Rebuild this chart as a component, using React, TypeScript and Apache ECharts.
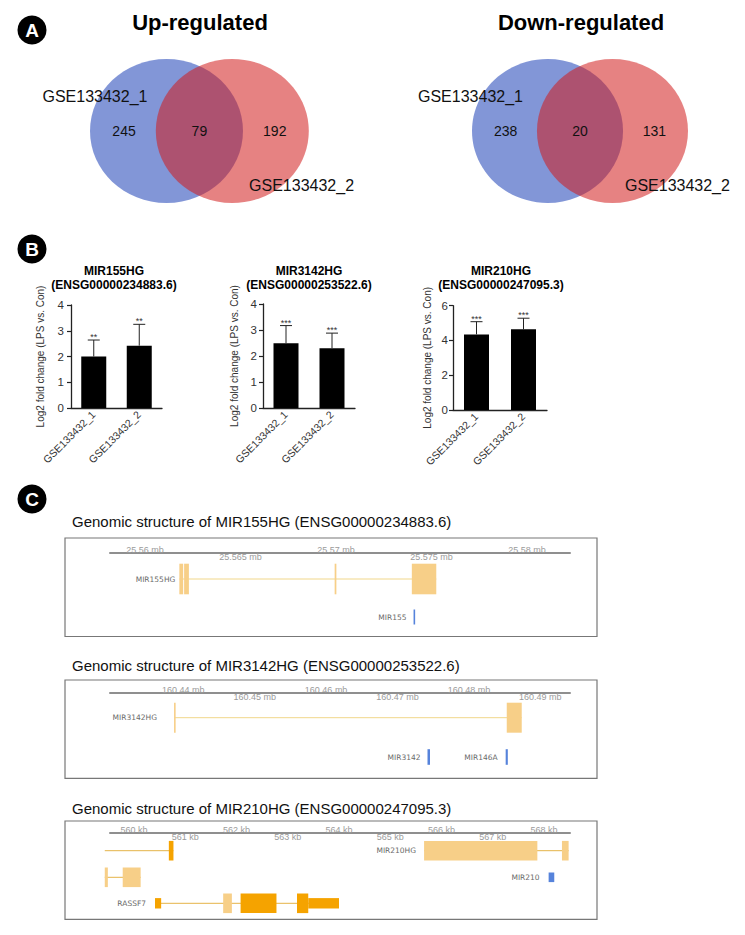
import React, { useEffect, useRef } from "react";
import * as echarts from "echarts";

// ---------------- DATA ----------------
const vennSets = ["GSE133432_1", "GSE133432_2"];
const upCounts = [245, 79, 192]; // only set1, both, only set2
const downCounts = [238, 20, 131];

const barCategories = ["GSE133432_1", "GSE133432_2"];
const mir155hgMeans = [2.0, 2.42];
const mir155hgSD = [0.64, 0.83];
const mir155hgSig = ["**", "**"];
const mir3142hgMeans = [2.49, 2.3];
const mir3142hgSD = [0.68, 0.58];
const mir3142hgSig = ["***", "***"];
const mir210hgMeans = [4.35, 4.64];
const mir210hgSD = [0.73, 0.64];
const mir210hgSig = ["***", "***"];

// genomic coordinates in kb; [start, end, feature kind]
const mir155Ticks = [25560, 25565, 25570, 25575, 25580];
const mir155TickLabels = ["25.56 mb", "25.565 mb", "25.57 mb", "25.575 mb", "25.58 mb"];
const mir155hgExons: [number, number, string][] = [
  [25561.8, 25562.0, "nc"],
  [25562.05, 25562.3, "nc"],
  [25569.93, 25570.02, "nc"],
  [25573.97, 25575.25, "nc"],
];
const mir155Exons: [number, number, string][] = [[25574.06, 25574.14, "mir"]];

const mir3142Ticks = [160440, 160450, 160460, 160470, 160480, 160490];
const mir3142TickLabels = ["160.44 mb", "160.45 mb", "160.46 mb", "160.47 mb", "160.48 mb", "160.49 mb"];
const mir3142hgExons: [number, number, string][] = [
  [160438.7, 160438.9, "nc"],
  [160485.3, 160487.4, "nc"],
];
const mir3142Exons: [number, number, string][] = [[160474.2, 160474.55, "mir"]];
const mir146aExons: [number, number, string][] = [[160485.15, 160485.45, "mir"]];

const mir210Ticks = [560, 561, 562, 563, 564, 565, 566, 567, 568];
const mir210TickLabels = ["560 kb", "561 kb", "562 kb", "563 kb", "564 kb", "565 kb", "566 kb", "567 kb", "568 kb"];
const upstreamCodingSpan = [559.43, 560.77];
const upstreamCodingExons: [number, number, string][] = [[560.68, 560.77, "cds"]];
const mir210hgExons: [number, number, string][] = [
  [565.66, 567.87, "nc"],
  [568.35, 568.48, "nc"],
];
const upstreamNcExons: [number, number, string][] = [
  [559.43, 559.49, "nc"],
  [559.78, 560.13, "nc"],
];
const mir210Exons: [number, number, string][] = [[568.09, 568.2, "mir"]];
const rassf7Exons: [number, number, string][] = [
  [560.41, 560.53, "utr"],
  [561.74, 561.91, "nc"],
  [562.08, 562.78, "cds"],
  [563.18, 563.4, "cds"],
  [563.4, 564.0, "utr"],
];

// ---------------- STYLE ----------------
const FONT = "'Liberation Sans', Arial, Helvetica, sans-serif";
const NARROW = "'Liberation Sans Narrow', 'Arial Narrow', 'Liberation Sans', sans-serif";
const BLUE = "rgba(28,64,182,0.55)";
const RED = "rgba(209,28,28,0.55)";
const FEATURE_COLORS: Record<string, string> = {
  nc: "#F7CF88",
  cds: "#F5A300",
  utr: "#F5A300",
  mir: "#5683DB",
};

const D = 0.86; // venn centre distance (radius units)

function vennSeries(gridIdx: number, counts: number[], namePos: number[][]) {
  const shapes: any[] = [
    { kind: "circle", value: [0, 0], color: BLUE },
    { kind: "circle", value: [D, 0], color: RED },
    { kind: "text", value: [-0.555, 0], text: String(counts[0]), size: 14 },
    { kind: "text", value: [D / 2, 0], text: String(counts[1]), size: 14 },
    { kind: "text", value: [D + 0.555, 0], text: String(counts[2]), size: 14 },
    { kind: "text", value: namePos[0], text: vennSets[0], size: 16 },
    { kind: "text", value: namePos[1], text: vennSets[1], size: 16 },
  ];
  return {
    type: "custom",
    xAxisIndex: gridIdx,
    yAxisIndex: gridIdx,
    silent: true,
    data: shapes.map((s) => s.value),
    renderItem: (params: any, api: any) => {
      const sh = shapes[params.dataIndex];
      const c = api.coord([api.value(0), api.value(1)]);
      if (sh.kind === "circle") {
        const r = api.size([1, 1]);
        return {
          type: "ellipse",
          shape: { cx: c[0], cy: c[1], rx: r[0], ry: r[1] },
          style: { fill: sh.color },
        };
      }
      return {
        type: "text",
        x: c[0],
        y: c[1],
        style: {
          text: sh.text,
          fill: "#111",
          font: `${sh.size}px ${FONT}`,
          align: "center",
          verticalAlign: "middle",
          textAlign: "center",
          textVerticalAlign: "middle",
        },
      };
    },
  };
}

function errorSeries(gridIdx: number, means: number[], sds: number[], sig: string[]) {
  return {
    type: "custom",
    xAxisIndex: gridIdx,
    yAxisIndex: gridIdx,
    silent: true,
    z: 5,
    data: means.map((m, i) => [i, m, m + sds[i]]),
    encode: { x: 0, y: [1, 2] },
    renderItem: (params: any, api: any) => {
      const b = api.coord([api.value(0), api.value(1)]);
      const t = api.coord([api.value(0), api.value(2)]);
      const hw = 6;
      return {
        type: "group",
        children: [
          { type: "line", shape: { x1: b[0], y1: b[1], x2: t[0], y2: t[1] }, style: { stroke: "#222", lineWidth: 1 } },
          { type: "line", shape: { x1: t[0] - hw, y1: t[1], x2: t[0] + hw, y2: t[1] }, style: { stroke: "#222", lineWidth: 1 } },
          {
            type: "text",
            x: t[0],
            y: t[1] - 3,
            style: {
              text: sig[params.dataIndex],
              fill: "#333",
              font: `9px ${FONT}`,
              align: "center",
              verticalAlign: "middle",
              textAlign: "center",
              textVerticalAlign: "middle",
            },
          },
        ],
      };
    },
  };
}

type Track = {
  label?: string;
  exons: [number, number, string][];
  span?: number[];
  row: number;
  labelGap?: number;
};

function trackSeries(gridIdx: number, tracks: Track[], half: Record<string, number>, intronColor: string) {
  const shapes: any[] = [];
  tracks.forEach((t) => {
    const s = t.span ? t.span[0] : Math.min(...t.exons.map((e) => e[0]));
    const e = t.span ? t.span[1] : Math.max(...t.exons.map((x) => x[1]));
    if (t.exons.length > 1 || t.span) shapes.push({ kind: "intron", value: [s, e], row: t.row });
    t.exons.forEach((ex) =>
      shapes.push({ kind: "exon", value: [ex[0], ex[1]], row: t.row, half: half[ex[2]], color: FEATURE_COLORS[ex[2]] })
    );
    if (t.label) shapes.push({ kind: "label", value: [s, s], row: t.row, text: t.label, gap: t.labelGap ?? 8 });
  });
  return {
    type: "custom",
    xAxisIndex: gridIdx,
    yAxisIndex: gridIdx,
    silent: true,
    clip: false,
    data: shapes.map((s) => s.value),
    renderItem: (params: any, api: any) => {
      const sh = shapes[params.dataIndex];
      const p0 = api.coord([api.value(0), sh.row]);
      const p1 = api.coord([api.value(1), sh.row]);
      if (sh.kind === "intron") {
        return {
          type: "line",
          shape: { x1: p0[0], y1: p0[1], x2: p1[0], y2: p1[1] },
          style: { stroke: intronColor, lineWidth: 0.9 },
        };
      }
      if (sh.kind === "exon") {
        const top = api.coord([api.value(0), sh.row - sh.half])[1];
        const bot = api.coord([api.value(0), sh.row + sh.half])[1];
        return {
          type: "rect",
          shape: { x: p0[0], y: top, width: Math.max(p1[0] - p0[0], 1.6), height: bot - top },
          style: { fill: sh.color },
        };
      }
      return {
        type: "text",
        x: p0[0] - sh.gap,
        y: p0[1],
        style: {
          text: sh.text,
          fill: "#6a6a6a",
          font: `7.5px 'DejaVu Sans', sans-serif`,
          align: "right",
          verticalAlign: "middle",
          textAlign: "right",
          textVerticalAlign: "middle",
        },
      };
    },
  };
}

function tickSeries(gridIdx: number, ticks: number[], labels: string[]) {
  return {
    type: "custom",
    xAxisIndex: gridIdx,
    yAxisIndex: gridIdx,
    silent: true,
    clip: false,
    data: ticks.map((t) => [t]),
    renderItem: (params: any, api: any) => {
      const p = api.coord([api.value(0), 0]);
      const above = params.dataIndex % 2 === 0;
      return {
        type: "text",
        x: p[0],
        y: p[1] + (above ? -2.8 : 4.6),
        style: {
          text: labels[params.dataIndex],
          fill: "#9b9b9b",
          font: `9px ${FONT}`,
          align: "center",
          verticalAlign: "middle",
          textAlign: "center",
          textVerticalAlign: "middle",
        },
      };
    },
  };
}

function text(x: number, y: number, t: string, font: string, align = "center", fill = "#000") {
  return {
    type: "text",
    x,
    y,
    silent: true,
    style: { text: t, font, fill, align, verticalAlign: "middle", textAlign: align, textVerticalAlign: "middle" },
  };
}

function badge(x: number, y: number, letter: string) {
  return [
    { type: "circle", shape: { cx: x, cy: y, r: 14.5 }, style: { fill: "#000" }, silent: true },
    text(x, y + 0.5, letter, `bold 19px ${FONT}`, "center", "#fff"),
  ];
}

function box(y: number, h: number) {
  return { type: "rect", shape: { x: 65, y, width: 532, height: h }, style: { fill: "none", stroke: "#777", lineWidth: 1.2 }, silent: true };
}

function barAxes(max: number, interval: number, nameGap: number, margin: number) {
  const x = {
    type: "category",
    data: barCategories,
    axisLine: { lineStyle: { color: "#222", width: 1.3 } },
    axisTick: { alignWithLabel: true, length: 4, lineStyle: { color: "#222", width: 1.2 } },
    axisLabel: { rotate: 45, fontSize: 10.5, color: "#333", margin: 5, fontFamily: NARROW },
  };
  const y = {
    type: "value",
    min: 0,
    max,
    interval,
    name: "Log2 fold change (LPS vs. Con)",
    nameLocation: "middle",
    nameGap,
    nameTextStyle: { fontSize: 10, color: "#333", fontFamily: NARROW },
    axisLine: { show: true, lineStyle: { color: "#222", width: 1.3 } },
    axisTick: { show: true, length: 4, lineStyle: { color: "#222", width: 1.2 } },
    axisLabel: { fontSize: 11.5, color: "#333", margin, fontFamily: NARROW },
    splitLine: { show: false },
  };
  return { x, y };
}

function hiddenAxes(xmin: number, xmax: number, ymin: number, ymax: number) {
  return {
    x: { type: "value", min: xmin, max: xmax, show: false },
    y: { type: "value", min: ymin, max: ymax, show: false },
  };
}

function genomeAxes(xmin: number, xmax: number, h: number) {
  return {
    x: {
      type: "value",
      min: xmin,
      max: xmax,
      position: "top",
      axisLine: { show: true, onZero: false, lineStyle: { color: "#8f8f8f", width: 2 } },
      axisTick: { show: false },
      axisLabel: { show: false },
      splitLine: { show: false },
    },
    y: { type: "value", min: 0, max: h, inverse: true, show: false },
  };
}

export default function App() {
  const ref = useRef<HTMLDivElement>(null);
  useEffect(() => {
    document.body.style.margin = "0";
    if (!ref.current) return;
    const chart = echarts.init(ref.current, undefined, { renderer: "svg" });

    const g = (left: number, top: number, width: number, height: number) => ({
      left,
      top,
      width,
      height,
      containLabel: false,
      outerBoundsMode: "none",
    });

    const axes = [
      hiddenAxes(-1, 1 + D, -1, 1),
      hiddenAxes(-1, 1 + D, -1, 1),
      barAxes(4, 1, 26, 7),
      barAxes(4, 1, 24, 6),
      barAxes(6, 2, 21, 5),
      genomeAxes(25558.17, 25582.25, 83.3),
      genomeAxes(160429.73, 160494.16, 85.6),
      genomeAxes(559.532, 568.507, 87),
    ];

    const option: any = {
      animation: false,
      backgroundColor: "#fff",
      textStyle: { fontFamily: FONT },
      grid: [
        g(90, 59, 218.8, 144),
        g(472, 59, 216, 144),
        g(71, 305, 91, 103),
        g(263, 304, 92, 104),
        g(453, 305.7, 94, 104.3),
        g(110, 552.7, 460, 83.3),
        g(110, 692.7, 460, 85.6),
        g(110, 832.3, 460, 87),
      ],
      xAxis: axes.map((a, i) => ({ ...a.x, gridIndex: i })),
      yAxis: axes.map((a, i) => ({ ...a.y, gridIndex: i })),
      series: [
        vennSeries(0, upCounts, [[-0.935, 0.486], [1.765, -0.75]]),
        vennSeries(1, downCounts, [[-1.02, 0.486], [1.72, -0.75]]),
        { type: "bar", xAxisIndex: 2, yAxisIndex: 2, data: mir155hgMeans, barWidth: 25, itemStyle: { color: "#000" }, silent: true },
        errorSeries(2, mir155hgMeans, mir155hgSD, mir155hgSig),
        { type: "bar", xAxisIndex: 3, yAxisIndex: 3, data: mir3142hgMeans, barWidth: 25, itemStyle: { color: "#000" }, silent: true },
        errorSeries(3, mir3142hgMeans, mir3142hgSD, mir3142hgSig),
        { type: "bar", xAxisIndex: 4, yAxisIndex: 4, data: mir210hgMeans, barWidth: 25, itemStyle: { color: "#000" }, silent: true },
        errorSeries(4, mir210hgMeans, mir210hgSD, mir210hgSig),
        tickSeries(5, mir155Ticks, mir155TickLabels),
        trackSeries(
          5,
          [
            { label: "MIR155HG", exons: mir155hgExons, row: 26.3, labelGap: 4 },
            { label: "MIR155", exons: mir155Exons, row: 64.3, labelGap: 7 },
          ],
          { nc: 15.3, mir: 7.5 },
          "#EFD27E"
        ),
        tickSeries(6, mir3142Ticks, mir3142TickLabels),
        trackSeries(
          6,
          [
            { label: "MIR3142HG", exons: mir3142hgExons, row: 25, labelGap: 17 },
            { label: "MIR3142", exons: mir3142Exons, row: 64.3, labelGap: 7 },
            { label: "MIR146A", exons: mir146aExons, row: 64.3, labelGap: 8 },
          ],
          { nc: 15, mir: 7.8 },
          "#EFD27E"
        ),
        tickSeries(7, mir210Ticks, mir210TickLabels),
        trackSeries(
          7,
          [
            { exons: upstreamCodingExons, span: upstreamCodingSpan, row: 18.4 },
            { label: "MIR210HG", exons: mir210hgExons, row: 18.4, labelGap: 8 },
            { exons: upstreamNcExons, row: 45 },
            { label: "MIR210", exons: mir210Exons, row: 45, labelGap: 9 },
            { label: "RASSF7", exons: rassf7Exons, row: 71, labelGap: 9 },
          ],
          { nc: 9.8, cds: 9.8, utr: 5.2, mir: 4.8 },
          "#E2AA33"
        ),
      ],
      graphic: [
        ...badge(32, 30, "A"),
        ...badge(32, 249, "B"),
        ...badge(32, 499, "C"),
        text(200, 22, "Up-regulated", `bold 22px ${FONT}`),
        text(581, 22, "Down-regulated", `bold 22px ${FONT}`),
        text(114, 271, "MIR155HG", `bold 12px ${FONT}`),
        text(114, 284.5, "(ENSG00000234883.6)", `bold 12px ${FONT}`),
        text(309, 271, "MIR3142HG", `bold 12px ${FONT}`),
        text(309, 284.5, "(ENSG00000253522.6)", `bold 12px ${FONT}`),
        text(501, 271, "MIR210HG", `bold 12px ${FONT}`),
        text(501, 284.5, "(ENSG00000247095.3)", `bold 12px ${FONT}`),
        text(72, 521, "Genomic structure of MIR155HG (ENSG00000234883.6)", `15px ${FONT}`, "left", "#111"),
        text(72, 665, "Genomic structure of MIR3142HG (ENSG00000253522.6)", `15px ${FONT}`, "left", "#111"),
        text(72, 808, "Genomic structure of MIR210HG (ENSG00000247095.3)", `15px ${FONT}`, "left", "#111"),
        box(538, 98.5),
        box(680, 98.3),
        box(821, 98.3),
      ],
    };

    chart.setOption(option);
    return () => chart.dispose();
  }, []);

  return <div ref={ref} style={{ width: 745, height: 935 }} />;
}
